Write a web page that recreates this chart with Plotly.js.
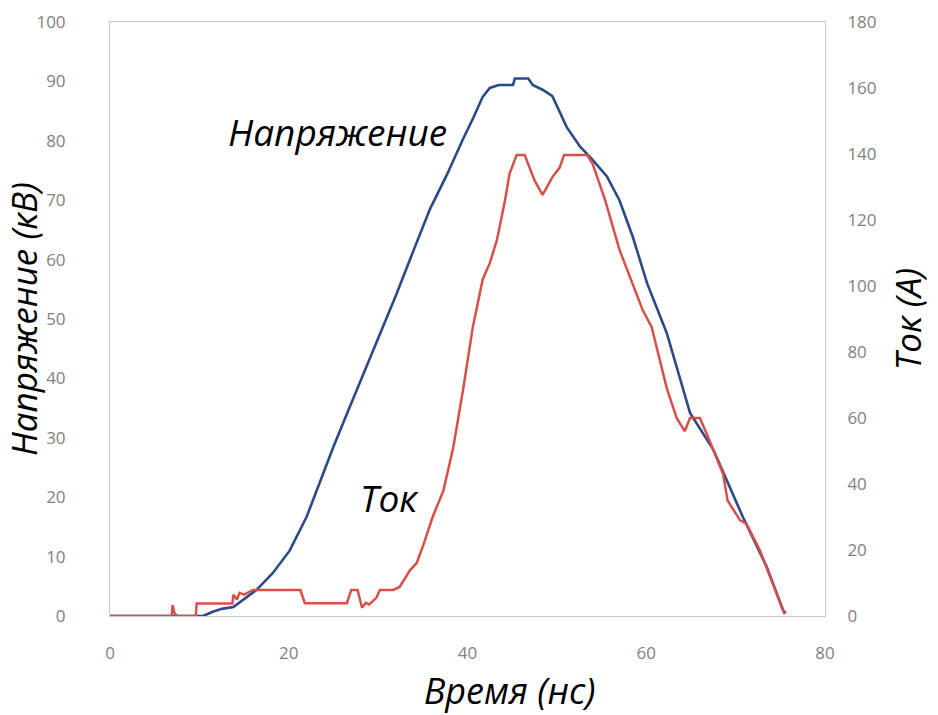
<!DOCTYPE html>
<html>
<head>
<meta charset="utf-8">
<script src="https://cdn.plot.ly/plotly-3.0.1.min.js"></script>
<style>html,body{margin:0;padding:0;background:#fff;}#chart{width:938px;height:715px;}</style>
</head>
<body>
<div id="chart"></div>
<script>
// Voltage (kV) vs time (ns)
const timeV = [0, 10.4, 11.5, 12.5, 13.8, 14.9, 16.4, 18.2, 20.1, 22, 23.5, 25, 26.5, 28.3, 30.2, 32, 33.9, 35.8, 37.7, 38.8, 39.5, 40.6, 41.7, 42.5, 43.5, 45.1, 45.3, 46.8, 47.3, 48.4, 49.5, 51.1, 52.6, 54, 55.6, 57, 58.5, 60.1, 62.3, 64.9, 67.5, 70.8, 73.5, 75.3, 75.6];
const voltage = [0, 0, 0.7, 1.2, 1.5, 2.7, 4.4, 7.2, 11, 16.7, 22.6, 28.5, 34, 40.5, 47.3, 54, 61.3, 68.5, 74.3, 78, 80.3, 83.7, 87.4, 88.9, 89.4, 89.4, 90.5, 90.5, 89.4, 88.6, 87.5, 82.3, 79, 76.8, 74, 70, 63.8, 56, 47.6, 34.2, 28, 16.7, 8.2, 1, 0.5];

// Current (A) vs time (ns)
const timeI = [0, 6.9, 7.0, 7.2, 7.5, 9.6, 9.7, 13.7, 13.8, 14.2, 14.5, 15, 16, 21.3, 21.8, 26.5, 27.0, 27.7, 28.2, 28.6, 29, 29.8, 30.2, 31.7, 32.4, 33.6, 34.3, 35, 36.1, 37.3, 38.4, 39.5, 40.6, 41.7, 42.5, 43.3, 44.2, 44.7, 45.5, 46.4, 47.5, 48.4, 49.5, 50.3, 50.8, 53.4, 54, 55.4, 57, 59.6, 60.6, 62.3, 63.4, 64.3, 64.9, 66, 66.8, 68.6, 69.1, 70.5, 71.2, 72.7, 75.3, 75.5];
const current = [0, 0, 3.3, 1, 0, 0, 3.8, 3.8, 6.4, 5, 7, 6.5, 7.9, 7.9, 3.9, 3.9, 7.9, 7.9, 2.5, 4, 3.5, 5.5, 7.9, 7.9, 8.8, 14, 16, 21, 30, 38, 51, 68.5, 87.6, 102, 107, 114, 126, 134, 139.7, 139.7, 132, 127.6, 133, 135.8, 139.7, 139.7, 137, 126, 111, 92.7, 87.6, 69, 60, 56, 60, 60, 55, 43, 35, 29, 28, 20, 1.8, 0.5];

const xTicks = [0, 20, 40, 60, 80];
const yTicksV = [0, 10, 20, 30, 40, 50, 60, 70, 80, 90, 100];
const yTicksI = [0, 20, 40, 60, 80, 100, 120, 140, 160, 180];

const labelVoltage = 'Напряжение';
const labelCurrent = 'Ток';

const tickFont = {family: 'Open Sans, sans-serif', size: 17, color: '#7f7f7f'};
const titleFont = {family: 'Open Sans, sans-serif', size: 35, color: '#000'};
const pad = '&nbsp;'.repeat(9);

const traces = [
  {x: timeI, y: current, yaxis: 'y2', type: 'scatter', mode: 'lines', name: labelCurrent,
   line: {color: '#d6504a', width: 2.5}},
  {x: timeV, y: voltage, type: 'scatter', mode: 'lines', name: labelVoltage,
   line: {color: '#2a4a88', width: 2.6}}
];

const layout = {
  width: 938, height: 715,
  margin: {l: 110, r: 113, t: 22, b: 99},
  paper_bgcolor: '#fff', plot_bgcolor: '#fff',
  showlegend: false,
  xaxis: {range: [0, 80], tickvals: xTicks, showgrid: false, zeroline: false,
    showline: true, mirror: true, linecolor: '#c8c8c8', linewidth: 1,
    ticks: '', tickfont: tickFont, ticklabelstandoff: 22,
    title: {text: pad + '<i>Время (нс)</i>', font: {family: 'Open Sans, sans-serif', size: 36, color: '#000'}, standoff: 16}},
  yaxis: {range: [0, 100], tickvals: yTicksV, showgrid: false, zeroline: false,
    showline: true, linecolor: '#c8c8c8', linewidth: 1,
    ticks: '', tickfont: tickFont, ticklabelstandoff: 40,
    title: {text: '<i>Напряжение (кВ)</i>', font: titleFont, standoff: 0}},
  yaxis2: {range: [0, 180], tickvals: yTicksI, overlaying: 'y', side: 'right',
    showgrid: false, zeroline: false, showline: true, linecolor: '#c8c8c8', linewidth: 1,
    ticks: '', tickfont: tickFont, ticklabelstandoff: 18,
    title: {text: '<i>Ток (A)</i>', font: titleFont, standoff: 20}},
  annotations: [
    {x: 13.0, y: 81.5, xref: 'x', yref: 'y', xanchor: 'left', yanchor: 'middle', showarrow: false,
     text: '<i>' + labelVoltage + '</i>', font: {family: 'Open Sans, sans-serif', size: 37, color: '#000'}},
    {x: 27.8, y: 20, xref: 'x', yref: 'y', xanchor: 'left', yanchor: 'middle', showarrow: false,
     text: '<i>' + labelCurrent + '</i>', font: {family: 'Open Sans, sans-serif', size: 37, color: '#000'}}
  ]
};

Plotly.newPlot('chart', traces, layout, {displayModeBar: false, staticPlot: true});
</script>
</body>
</html>
